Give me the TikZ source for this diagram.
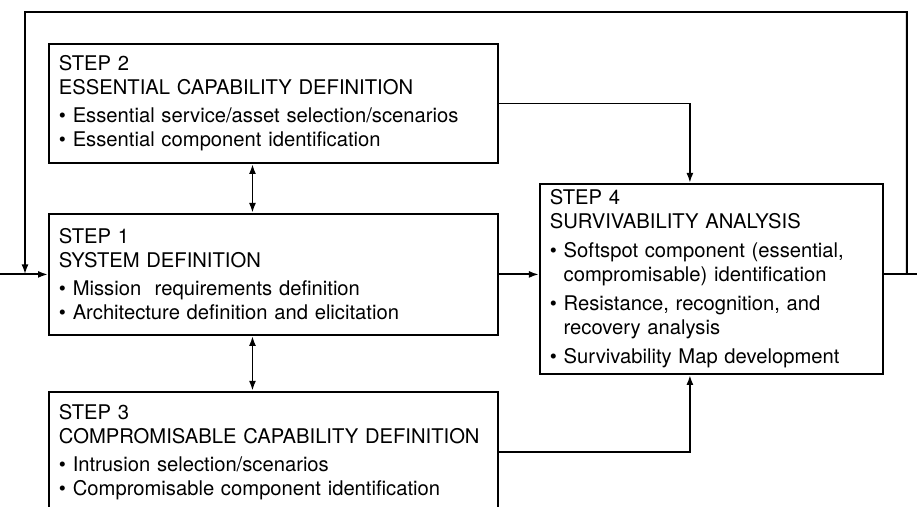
\documentclass[tikz,border=0pt]{standalone}
\usepackage{fontspec}
\setmainfont{TeX Gyre Heros}
\usetikzlibrary{arrows.meta,positioning,calc}
\tikzset{
  stepbox/.style={draw, line width=1.1pt, align=left, inner xsep=2mm, inner ysep=0pt, text width=8.58cm, minimum width=8.98cm, minimum height=2.42cm, font=\fontsize{11.5}{13.8}\selectfont},
  arrow/.style={-{Latex[length=2mm,width=1.4mm]}, line width=1.1pt},
  biarrow/.style={{Latex[length=2mm,width=1.4mm]}-{Latex[length=2mm,width=1.4mm]}, line width=1.1pt},
  line/.style={line width=1.1pt}
}
\newcommand{\bitem}{\textbullet\ }
\newcommand{\bcont}{\phantom{\textbullet\ }}

\begin{document}
\begin{tikzpicture}
  \useasboundingbox (0,0) rectangle (18.34,-10.12);
  \clip (0,0) rectangle (18.34,-10.12);

  \node[stepbox, anchor=north west, minimum height=2.38cm] (s2) at (0.96,-0.86) {STEP 2\\ESSENTIAL CAPABILITY DEFINITION\\[2pt]\bitem Essential service/asset selection/scenarios\\\bitem Essential component identification};
  \node[stepbox, below=0.98cm of s2] (s1) {STEP 1\\SYSTEM DEFINITION\\[2pt]\bitem Mission\ \ requirements definition\\\bitem Architecture definition and elicitation};
  \node[stepbox, below=1.1cm of s1] (s3) {STEP 3\\COMPROMISABLE CAPABILITY DEFINITION\\[2pt]\bitem Intrusion selection/scenarios\\\bitem Compromisable component identification};
  \node[stepbox, text width=6.46cm, minimum width=6.86cm, minimum height=3.8cm, right=0.8cm of s1, yshift=-0.09cm, font=\fontsize{11.5}{13.6}\selectfont] (s4) {STEP 4\\SURVIVABILITY ANALYSIS\\[3pt]\bitem Softspot component (essential,\\\bcont compromisable) identification\\[3pt]\bitem Resistance, recognition, and\\\bcont recovery analysis\\[3pt]\bitem Survivability Map development};

  % feedback loop
  \coordinate[left=0.96cm of s1.west] (in);
  \coordinate[left=0.46cm of s1.west] (jl);
  \coordinate (tl) at ($(s2.north west)+(-0.46,0.62)$);
  \coordinate (so) at (s4.east |- s1.east);
  \coordinate[right=0.46cm of so] (jr);
  \coordinate[right=0.74cm of so] (out);

  \draw[arrow] (in) -- (s1.west);
  \draw[line] (so) -- (out);
  \draw[arrow] (jr) |- (tl) -- (jl);

  \draw[biarrow] ([xshift=-0.42cm]s2.south) -- ([xshift=-0.42cm]s1.north);
  \draw[biarrow] ([xshift=-0.42cm]s1.south) -- ([xshift=-0.42cm]s3.north);
  \draw[arrow] (s2.east) -| ([xshift=-0.43cm]s4.north);
  \draw[arrow] (s1.east) -- (s1.east -| s4.west);
  \draw[arrow] (s3.east) -| ([xshift=-0.43cm]s4.south);
\end{tikzpicture}
\end{document}
